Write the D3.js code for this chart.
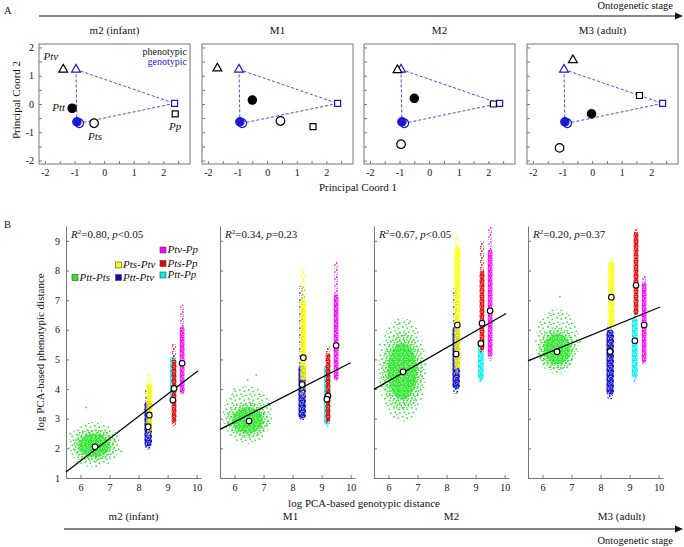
<!DOCTYPE html>
<html><head><meta charset="utf-8">
<script src="https://cdn.jsdelivr.net/npm/d3@7"></script>
<style>
body{margin:0;background:#fff}
svg, svg text{font-family:"Liberation Serif","Tinos","Times New Roman","DejaVu Serif",serif !important}
text{fill:#111}
</style>
</head><body><svg id="c" width="684" height="547" font-family="Liberation Serif, DejaVu Serif, serif"></svg>
<script>
// ---------------- DATA ----------------
const stages = ["m2 (infant)", "M1", "M2", "M3 (adult)"];
const taxa = ["Ptt", "Pts", "Ptv", "Pp"];
// genotypic PCA coordinates (same at every stage)
const genoPC1 = [-0.92, -0.84, -0.95, 2.38];
const genoPC2 = [-0.63, -0.68, 1.22, 0.02];
// phenotypic PCA coordinates per stage
const phenoPC1 = [[-1.08, -0.34, -1.38, 2.4], [-0.5, 0.45, -1.68, 1.55], [-0.5, -0.95, -1.07, 2.17], [-0.02, -1.1, -0.65, 1.6]];
const phenoPC2 = [[-0.15, -0.68, 1.22, -0.35], [0.14, -0.6, 1.26, -0.8], [0.2, -1.42, 1.2, 0.0], [-0.35, -1.55, 1.55, 0.3]];

const pairs = ["Ptt-Pts", "Pts-Ptv", "Ptt-Ptv", "Ptv-Pp", "Pts-Pp", "Ptt-Pp"];
const pairColors = ["#2ee62e", "#ffff00", "#0a0ac8", "#ff00ff", "#e60000", "#00f0f0"];
const genoDist = [6.5, 8.37, 8.33, 9.5, 9.22, 9.18];
// mean log phenotypic distance per stage (white circles)
const phenoMean = [
  [2.05, 3.12, 2.73, 4.87, 4.02, 3.63],
  [2.92, 5.06, 4.15, 5.47, 3.77, 3.66],
  [4.58, 6.16, 5.18, 6.64, 6.22, 5.54],
  [5.26, 7.10, 5.27, 6.16, 7.50, 5.63]
];
// extent of each bootstrap cloud (full range and dense core)
const cloudLo = [
  [1.35, 2.4, 1.95, 3.8, 2.75, 3.5],
  [2.15, 3.74, 2.95, 4.25, 2.8, 2.7],
  [2.9, 4.5, 3.8, 4.95, 5.2, 4.2],
  [4.5, 6.0, 3.65, 4.8, 6.4, 4.2]
];
const cloudHi = [
  [2.9, 4.55, 4.1, 6.85, 5.55, 5.25],
  [4.1, 8.1, 7.5, 8.3, 5.45, 5.1],
  [6.4, 9.15, 7.45, 9.5, 9.0, 5.8],
  [6.7, 8.45, 6.25, 7.85, 9.45, 6.55]
];
const coreLo = [
  [1.6, 2.6, 2.05, 3.85, 2.85, 3.7],
  [2.4, 4.3, 3.0, 4.3, 2.9, 2.8],
  [3.4, 4.7, 4.0, 5.1, 5.3, 4.3],
  [4.7, 6.1, 3.8, 4.9, 6.5, 4.4]
];
const coreHi = [
  [2.6, 4.2, 3.6, 6.1, 5.0, 5.1],
  [3.5, 7.0, 4.8, 7.2, 5.2, 4.8],
  [5.8, 8.8, 6.1, 8.7, 8.0, 5.6],
  [6.0, 8.3, 6.0, 7.6, 9.3, 6.4]
];
// horizontal extent of the Ptt-Pts (green) cloud
const greenXLo = [5.6, 5.6, 5.65, 5.75];
const greenXHi = [7.35, 7.3, 7.3, 7.25];
// a few isolated outlying points [stage, x, y]
const outliers = [[0, 6.2, 3.38], [0, 5.65, 2.5], [0, 7.4, 1.9], [1, 6.75, 4.48], [1, 6.45, 4.3], [1, 6.0, 4.0],
  [2, 6.75, 6.28], [2, 6.35, 6.2], [2, 5.7, 5.5], [3, 6.6, 7.12], [3, 7.3, 5.6]];
// regression lines
const regX1 = [5.5, 5.5, 5.5, 5.5];
const regY1 = [1.2, 2.64, 3.99, 4.95];
const regX2 = [10.05, 10.0, 10.05, 10.05];
const regY2 = [4.62, 4.89, 6.55, 6.77];
const r2Vals = ["0.80", "0.34", "0.67", "0.20"];
const pVals = ["<0.05", "=0.23", "<0.05", "=0.37"];
const yTicksB = [1, 2, 3, 4, 5, 6, 7, 8, 9];
const xTicksB = [6, 7, 8, 9, 10];

// ---------------- DRAW ----------------
const FONT = "Liberation Serif, Tinos, Times New Roman, DejaVu Serif, serif";
const svg = d3.select("#c");
const defs = svg.append("defs");
const axisGray = "#777";

function txt(sel) { return sel.append("text").attr("font-family", FONT); }

function makePattern(id, color, tile, dots, s) {
  const p = defs.append("pattern").attr("id", id).attr("patternUnits", "userSpaceOnUse")
    .attr("width", tile).attr("height", tile);
  dots.forEach(([dx, dy]) => p.append("rect").attr("x", dx).attr("y", dy)
    .attr("width", s).attr("height", s).attr("fill", color));
}
const denseDots = [[0, 0], [1.9, 0.6], [3.6, 0.1], [0.7, 1.8], [2.7, 2.3], [4.1, 1.9], [0.1, 3.5], [1.8, 3.8], [3.4, 3.6]];
const midDots = [[0.5, 0.5], [4, 1.2], [2, 3.2], [5.5, 4], [1, 6], [4.2, 6.3]];
const sparseDots = [[1, 1], [5.5, 2.5], [2.5, 5.5], [7, 6.5], [4, 8]];
pairColors.forEach((c, i) => {
  makePattern("d" + i, c, 5, denseDots, 1.6);
  makePattern("m" + i, c, 7, midDots, 1.6);
  makePattern("s" + i, c, 9, sparseDots, 1.6);
});

function arrow(y, x1, x2) {
  svg.append("line").attr("x1", x1).attr("x2", x2 - 6).attr("y1", y).attr("y2", y)
    .attr("stroke", "#111").attr("stroke-width", 1.2);
  svg.append("path").attr("d", `M${x2},${y} L${x2 - 8},${y - 3.5} L${x2 - 8},${y + 3.5} Z`).attr("fill", "#111");
}
arrow(16, 39, 683);
txt(svg).attr("x", 673).attr("y", 9).attr("text-anchor", "end").attr("font-size", 10.5).text("Ontogenetic stage");
txt(svg).attr("x", 4).attr("y", 14).attr("font-size", 10.5).text("A");
txt(svg).attr("x", 4).attr("y", 228).attr("font-size", 10.5).text("B");

// ---------- Panel A ----------
const aLeft = [39, 202, 364, 527], aTop = 44, aW = 151, aH = 120;
const xA = d3.scaleLinear().domain([-2.2, 2.9]).range([0, aW]);
const yA = d3.scaleLinear().domain([-2.12, 2.12]).range([aH, 0]);
const sym = [d3.symbolCircle, d3.symbolCircle, d3.symbolTriangle, d3.symbolSquare];
const symSize = [55, 58, 34, 36];
const blue = "#1a1ad6";

function styleAxis(a, keepPath) {
  a.attr("font-family", FONT);
  if (keepPath) a.selectAll("path").attr("stroke", axisGray); else a.selectAll("path").remove();
  a.selectAll("line").attr("stroke", axisGray);
  a.selectAll("text").attr("font-size", 10).attr("font-family", FONT).attr("fill", "#111");
}

stages.forEach((st, s) => {
  const g = svg.append("g").attr("transform", `translate(${aLeft[s]},${aTop})`);
  txt(svg).attr("x", aLeft[s] + aW / 2).attr("y", 34).attr("text-anchor", "middle")
    .attr("font-size", 11).text(st);
  const ax = g.append("g").attr("transform", `translate(0,${aH})`)
    .call(d3.axisBottom(xA).tickValues(d3.range(-2, 2.51, 0.5)).tickSize(-3).tickSizeOuter(0).tickPadding(5)
      .tickFormat(d => Number.isInteger(d) ? d : ""));
  const ay = g.append("g")
    .call(d3.axisLeft(yA).tickValues(d3.range(-2, 2.01, 0.5)).tickSize(-3).tickSizeOuter(0).tickPadding(5)
      .tickFormat(d => (s === 0 && Number.isInteger(d)) ? d : ""));
  styleAxis(ax, false); styleAxis(ay, false);
  g.append("rect").attr("width", aW).attr("height", aH).attr("fill", "none").attr("stroke", axisGray).attr("stroke-width", 1);

  const P = i => [xA(genoPC1[i]), yA(genoPC2[i])];
  [[2, 3], [3, 1], [2, 0]].forEach(([a, b]) => {
    g.append("line").attr("x1", P(a)[0]).attr("y1", P(a)[1]).attr("x2", P(b)[0]).attr("y2", P(b)[1])
      .attr("stroke", "#4a4ae0").attr("stroke-width", 1).attr("stroke-dasharray", "3,2");
  });
  [1, 0, 2, 3].forEach(i => {
    g.append("path").attr("d", d3.symbol(sym[i], symSize[i])())
      .attr("transform", `translate(${xA(genoPC1[i])},${yA(genoPC2[i])})`)
      .attr("fill", i === 0 ? blue : "#fff").attr("stroke", blue).attr("stroke-width", 1.2);
  });
  [0, 1, 2, 3].forEach(i => {
    g.append("path").attr("d", d3.symbol(sym[i], symSize[i])())
      .attr("transform", `translate(${xA(phenoPC1[s][i])},${yA(phenoPC2[s][i])})`)
      .attr("fill", i === 0 ? "#000" : "#fff").attr("stroke", "#000").attr("stroke-width", 1.2);
  });
  if (s === 0) {
    const off = [[-7, 3, "end"], [1, 17, "middle"], [-5, -9, "end"], [0, 16, "middle"]];
    taxa.forEach((t, i) => {
      txt(g).attr("x", xA(phenoPC1[s][i]) + off[i][0]).attr("y", yA(phenoPC2[s][i]) + off[i][1])
        .attr("text-anchor", off[i][2]).attr("font-size", 11).attr("font-style", "italic").text(t);
    });
    txt(g).attr("x", aW - 3).attr("y", 11).attr("text-anchor", "end").attr("font-size", 10).text("phenotypic");
    txt(g).attr("x", aW - 3).attr("y", 21).attr("text-anchor", "end").attr("font-size", 10)
      .style("fill", blue).text("genotypic");
  }
});
txt(svg).attr("x", 358).attr("y", 191).attr("text-anchor", "middle").attr("font-size", 11).text("Principal Coord 1");
txt(svg).attr("transform", "translate(20,100) rotate(-90)").attr("text-anchor", "middle")
  .attr("font-size", 11).text("Principal Coord 2");

// ---------- Panel B ----------
const bLeft = [66, 220, 374, 528], bTop = 226, bW = 135, bH = 252;
const xB = d3.scaleLinear().domain([5.5, 10.15]).range([0, bW]);
const yB = d3.scaleLinear().domain([1, 9.5]).range([bH, 0]);
const halfW = [0, 3, 3.8, 2.4, 2.4, 2.8];
const drawOrder = [2, 1, 5, 4, 3];
const stageLabelShift = [0, 3, 10, 26];

stages.forEach((st, s) => {
  const g = svg.append("g").attr("transform", `translate(${bLeft[s]},${bTop})`);
  const gx = (greenXLo[s] + greenXHi[s]) / 2;
  const gy = (cloudLo[s][0] + cloudHi[s][0]) / 2;
  const gyc = (coreLo[s][0] + coreHi[s][0]) / 2;
  const rxO = (xB(greenXHi[s]) - xB(greenXLo[s])) / 2, ryO = (yB(cloudLo[s][0]) - yB(cloudHi[s][0])) / 2;
  const ryC = (yB(coreLo[s][0]) - yB(coreHi[s][0])) / 2;
  g.append("ellipse").attr("cx", xB(gx)).attr("cy", yB(gy)).attr("rx", rxO).attr("ry", ryO).attr("fill", "url(#s0)");
  g.append("ellipse").attr("cx", xB(gx)).attr("cy", yB(gyc)).attr("rx", rxO * 0.85).attr("ry", ryC * 1.1).attr("fill", "url(#m0)");
  g.append("ellipse").attr("cx", xB(gx)).attr("cy", yB(gyc)).attr("rx", rxO * 0.62).attr("ry", ryC * 0.8).attr("fill", "url(#d0)");
  outliers.filter(o => o[0] === s).forEach(o => {
    g.append("rect").attr("x", xB(o[1]) - 0.8).attr("y", yB(o[2]) - 0.8).attr("width", 1.6).attr("height", 1.6).attr("fill", pairColors[0]);
  });
  drawOrder.forEach(i => {
    const cx = xB(genoDist[i]), hw = halfW[i];
    const tw = hw * 0.75;
    g.append("rect").attr("x", cx - tw).attr("width", 2 * tw)
      .attr("y", yB(cloudHi[s][i])).attr("height", yB(cloudLo[s][i]) - yB(cloudHi[s][i]))
      .attr("rx", tw).attr("fill", `url(#m${i})`);
    g.append("rect").attr("x", cx - hw).attr("width", 2 * hw)
      .attr("y", yB(coreHi[s][i])).attr("height", yB(coreLo[s][i]) - yB(coreHi[s][i]))
      .attr("rx", hw).attr("fill", `url(#d${i})`);
  });
  const ax = g.append("g").attr("transform", `translate(0,${bH})`)
    .call(d3.axisBottom(xB).tickValues(xTicksB).tickSize(-3).tickSizeOuter(0).tickPadding(6)
      .tickFormat(d3.format("d")));
  const ay = g.append("g")
    .call(d3.axisLeft(yB).tickValues(yTicksB).tickSize(-3).tickSizeOuter(0).tickPadding(6)
      .tickFormat(d => s === 0 ? d3.format("d")(d) : ""));
  styleAxis(ax, true); styleAxis(ay, true);
  g.append("line").attr("x1", xB(regX1[s])).attr("y1", yB(regY1[s])).attr("x2", xB(regX2[s])).attr("y2", yB(regY2[s]))
    .attr("stroke", "#000").attr("stroke-width", 1.2);
  pairs.forEach((p, i) => {
    g.append("circle").attr("cx", xB(genoDist[i])).attr("cy", yB(phenoMean[s][i])).attr("r", 2.8)
      .attr("fill", "#fff").attr("stroke", "#000").attr("stroke-width", 1.1);
  });
  const t = txt(g).attr("x", 5).attr("y", 12).attr("font-size", 11);
  t.append("tspan").attr("font-style", "italic").text("R");
  t.append("tspan").attr("font-size", 7).attr("dy", -4).text("2");
  t.append("tspan").attr("dy", 4).text("=" + r2Vals[s] + ", ");
  t.append("tspan").attr("font-style", "italic").text("p");
  t.append("tspan").text(pVals[s]);
  txt(svg).attr("x", bLeft[s] + bW / 2 + stageLabelShift[s]).attr("y", 520).attr("text-anchor", "middle")
    .attr("font-size", 11).text(st);
});

const legPos = [[72, 274.5], [115.5, 262], [115.5, 274.5], [160, 247], [160, 260.5], [160, 272]];
pairs.forEach((p, i) => {
  svg.append("rect").attr("x", legPos[i][0]).attr("y", legPos[i][1]).attr("width", 6).attr("height", 6)
    .attr("fill", pairColors[i]).attr("stroke", "#444").attr("stroke-width", 0.6);
  txt(svg).attr("x", legPos[i][0] + 7.5).attr("y", legPos[i][1] + 6).attr("font-size", 11)
    .attr("font-style", "italic").text(p);
});

txt(svg).attr("transform", "translate(44,352) rotate(-90)").attr("text-anchor", "middle")
  .attr("font-size", 11).text("log PCA-based phenotypic distance");
txt(svg).attr("x", 364).attr("y", 507).attr("text-anchor", "middle").attr("font-size", 11)
  .text("log PCA-based genotypic distance");
arrow(529, 64, 683);
txt(svg).attr("x", 673).attr("y", 544).attr("text-anchor", "end").attr("font-size", 10.5).text("Ontogenetic stage");
</script>
</body></html>
